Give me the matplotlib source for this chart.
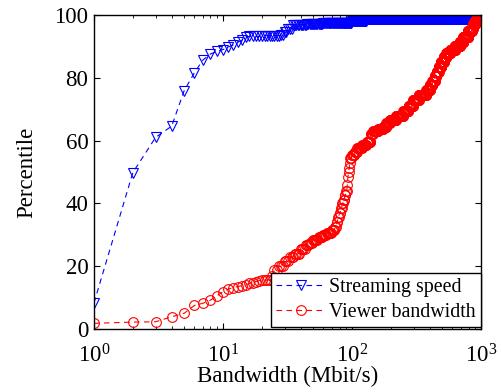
import numpy as np
import matplotlib
matplotlib.use("Agg")
import matplotlib.pyplot as plt
from matplotlib.ticker import LogLocator, NullFormatter

plt.rcParams['font.family'] = ['Liberation Serif', 'DejaVu Serif']
plt.rcParams['mathtext.fontset'] = 'stix'

# CDF knots: bandwidth (Mbit/s) -> percentile reached there
stream_bw = [1, 2, 3, 4, 5, 6, 7, 8, 9, 10, 11, 12, 13, 14, 15, 16, 20, 28,
             30, 32, 35, 45, 60, 100, 130, 300, 1000]
stream_pct = [8.3, 49.8, 61.0, 64.6, 75.9, 81.6, 85.7, 87.6, 88.4, 89.0, 89.8,
              90.5, 91.3, 92.0, 93.0, 93.2, 93.4, 93.6, 94.5, 95.5, 96.8, 97.2,
              97.5, 98.0, 98.6, 98.8, 99.2]

viewer_bw = [1, 2, 3, 4, 5, 6, 7, 8, 9, 10, 11, 12, 13, 14, 15, 16, 17, 18, 19,
             20, 24, 25, 27, 30, 33, 36, 40, 44, 47, 50, 55, 60, 64, 70, 74, 76,
             78, 80, 82, 84, 86, 88, 90, 92, 93, 94, 95, 96, 97, 100, 105, 110,
             120, 130, 140, 146, 160, 175, 185, 197, 220, 250, 275, 298, 330,
             377, 402, 420, 438, 452, 470, 490, 515, 540, 580, 630, 686, 730,
             794, 847, 870, 900, 925, 960, 1000]
viewer_pct = [1.8, 2.2, 2.3, 3.9, 5.0, 7.5, 8.2, 9.2, 10.6, 11.9, 12.7, 13.2,
              13.5, 13.8, 14.0, 14.5, 14.8, 15.1, 15.4, 15.6, 17.0, 18.8, 20.0,
              21.5, 23.0, 24.0, 25.5, 26.8, 27.3, 28.3, 29.3, 30.0, 30.5, 31.5,
              32.6, 34.0, 35.8, 37.0, 38.5, 40.0, 41.0, 42.7, 44.0, 46.0, 48.5,
              50.0, 51.2, 52.8, 54.5, 55.5, 56.5, 57.5, 58.5, 59.5, 62.0, 63.0,
              63.6, 64.2, 65.5, 66.6, 67.8, 69.5, 71.0, 73.0, 74.5, 76.2, 77.7,
              79.0, 80.5, 82.0, 83.5, 85.0, 86.5, 88.0, 89.0, 90.0, 91.5, 93.0,
              94.8, 95.8, 97.0, 98.0, 99.0, 99.5, 100.0]

# the CDF is sampled at every integer bandwidth, like the original
bw = np.arange(1, 1001)


def step_cdf(kx, ky):
    idx = np.searchsorted(kx, bw, side='right') - 1
    return np.asarray(ky)[idx]


fig = plt.figure(figsize=(5.01, 3.92), dpi=100)
ax = fig.add_axes([0.1876, 0.1607, 0.7725, 0.801])

ax.semilogx(bw, step_cdf(stream_bw, stream_pct), '--', color='b', lw=0.8,
            marker='v', mfc='none', mec='b', ms=7, mew=0.8,
            dashes=(5, 4), label='Streaming speed')
ax.semilogx(bw, step_cdf(viewer_bw, viewer_pct), '--', color='r', lw=0.8,
            marker='o', mfc='none', mec='r', ms=7, mew=0.8,
            dashes=(5, 4), label='Viewer bandwidth')

ax.set_xlim(1, 1000)
ax.set_ylim(0, 100)
ax.set_yticks([0, 20, 40, 60, 80, 100])
ax.xaxis.set_minor_locator(LogLocator(base=10, subs=np.arange(2, 10)))
ax.xaxis.set_minor_formatter(NullFormatter())
ax.tick_params(which='both', direction='in', top=True, right=True,
               labelsize=16.5)
ax.tick_params(axis='y', pad=4)
ax.tick_params(axis='x', pad=11)
ax.tick_params(which='major', length=4, width=0.8)
ax.tick_params(which='minor', length=2, width=0.6)
for s in ax.spines.values():
    s.set_linewidth(1.0)

ax.set_xlabel('Bandwidth (Mbit/s)', fontsize=16.5, labelpad=-1)
ax.set_ylabel('Percentile', fontsize=16.5, labelpad=12)

leg = ax.legend(loc='lower right', bbox_to_anchor=(1.0, 0.007),
                borderaxespad=0, fontsize=14.3, fancybox=False,
                handlelength=2.5, handletextpad=0.2, borderpad=0.25,
                labelspacing=0.3, framealpha=1)
leg.get_frame().set_edgecolor('k')
leg.get_frame().set_linewidth(1.0)

fig.savefig('out.png', dpi=100)
